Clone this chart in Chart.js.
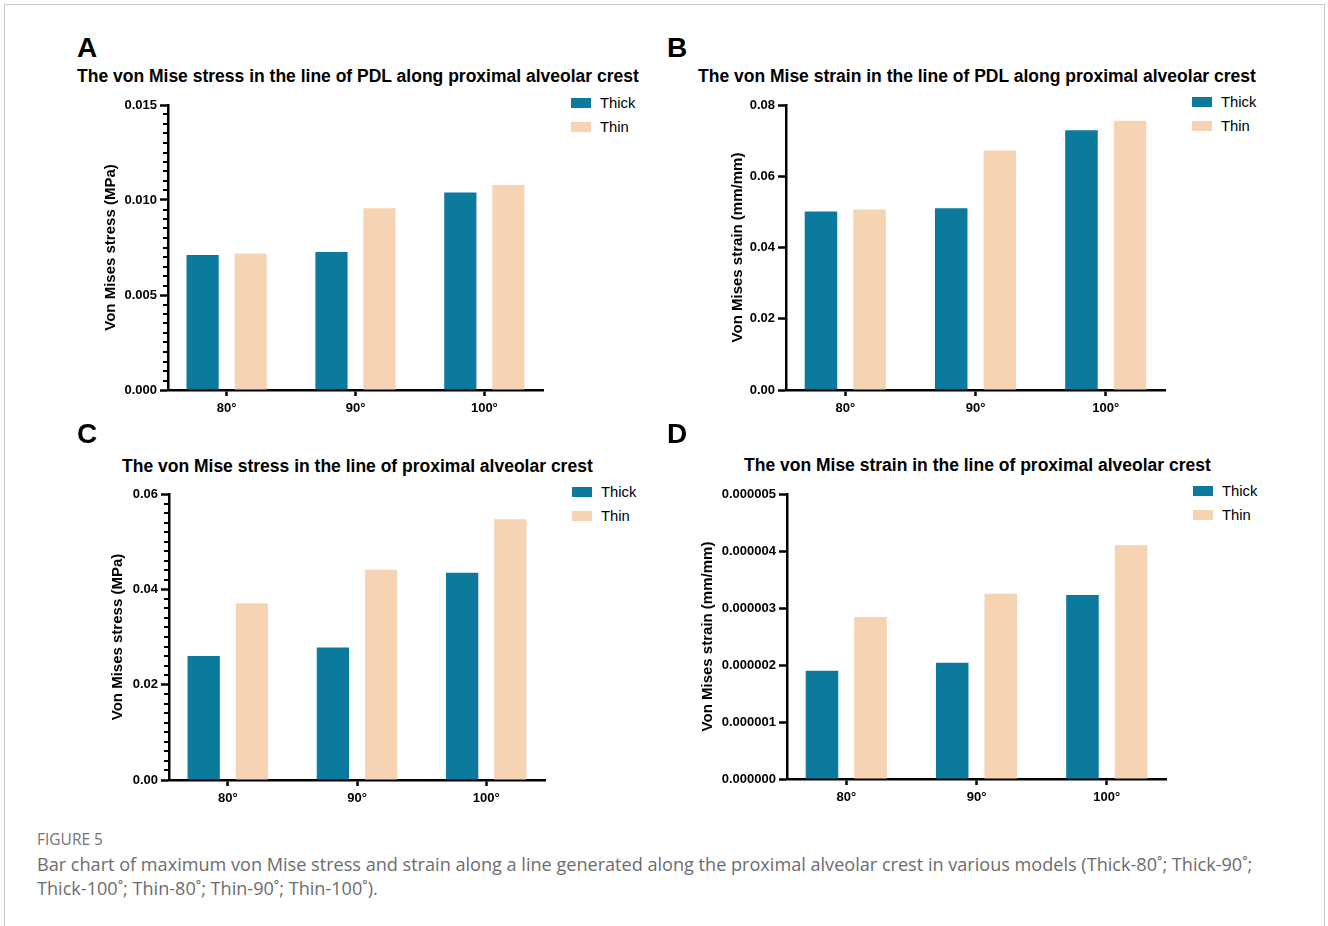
<!DOCTYPE html>
<html>
<head>
<meta charset="utf-8">
<script src="https://cdn.jsdelivr.net/npm/chart.js@4.4.1/dist/chart.umd.min.js"></script>
<style>
  html, body { margin: 0; padding: 0; background: #fff; }
  body { width: 1328px; height: 926px; position: relative; overflow: hidden;
         font-family: "Liberation Sans", Arial, sans-serif; }
  .frame { position: absolute; left: 4px; top: 4px; width: 1321px; height: 960px;
           border: 1px solid #cdcdcd; box-sizing: border-box; }
  .letter { position: absolute; font-weight: bold; font-size: 28px; line-height: 1; color: #000; }
  .title { position: absolute; font-weight: bold; font-size: 17.5px; line-height: 1; color: #000; white-space: nowrap; }
  .legend { position: absolute; font-size: 14.8px; line-height: 1; color: #000; }
  .legend .sw { position: absolute; left: 0; width: 20px; height: 10px; }
  .legend .lbl { position: absolute; left: 29px; white-space: nowrap; }
  canvas { position: absolute; }
  .fig { position: absolute; left: 37px; font-family: "Open Sans", sans-serif; color: #747474;
         font-size: 15.5px; line-height: 1; }
  .caption { position: absolute; left: 37px; font-family: "Open Sans", sans-serif; color: #6c6c6c;
             font-size: 18.1px; line-height: 24px; white-space: nowrap; }
</style>
</head>
<body>
<div class="frame"></div>
<div id="root"></div>
<div class="fig" style="top:831.8px;">FIGURE 5</div>
<div class="caption" style="top:852px;">Bar chart of maximum von Mise stress and strain along a line generated along the proximal alveolar crest in various models (Thick-80˚; Thick-90˚;<br>Thick-100˚; Thin-80˚; Thin-90˚; Thin-100˚).</div>

<script>
// Categories (approach angle) shared by all four panels
const categories = ['80°', '90°', '100°'];
const seriesNames = ['Thick', 'Thin'];

// A: von Mises stress in the PDL line along the proximal alveolar crest (MPa)
const stressPdlThick = [0.00711, 0.00726, 0.01040];
const stressPdlThin  = [0.00719, 0.00956, 0.01079];

// B: von Mises strain in the PDL line along the proximal alveolar crest (mm/mm)
const strainPdlThick = [0.0501, 0.0510, 0.0729];
const strainPdlThin  = [0.0507, 0.0672, 0.0756];

// C: von Mises stress in the line of the proximal alveolar crest (MPa)
const stressCrestThick = [0.0260, 0.0278, 0.0435];
const stressCrestThin  = [0.0371, 0.0441, 0.0547];

// D: von Mises strain in the line of the proximal alveolar crest (mm/mm)
const strainCrestThick = [0.00000190, 0.00000204, 0.00000323];
const strainCrestThin  = [0.00000284, 0.00000325, 0.00000410];

// Y axis tick values for each panel
const ticksA = [0.000, 0.005, 0.010, 0.015];
const ticksB = [0.00, 0.02, 0.04, 0.06, 0.08];
const ticksC = [0.00, 0.02, 0.04, 0.06];
const ticksD = [0.000000, 0.000001, 0.000002, 0.000003, 0.000004, 0.000005];

const THICK = '#0b7a9d';
const THIN = '#f5d3b3';
const FONT = '"Liberation Sans", Arial, sans-serif';

// Short minor tick marks on the value axis, placed through the scale
const minorTicks = {
  id: 'minorTicks',
  afterDraw(chart, args, opts) {
    if (!opts || !opts.perMajor) return;
    const y = chart.scales.y;
    const ctx = chart.ctx;
    const x0 = chart.chartArea.left;
    const major = y.ticks.length > 1 ? y.ticks[1].value - y.ticks[0].value : 0;
    if (!major) return;
    const step = major / opts.perMajor;
    const n = Math.round((y.max - y.min) / step);
    ctx.save();
    ctx.strokeStyle = '#000';
    ctx.lineWidth = 2;
    for (let i = 1; i < n; i++) {
      if (i % opts.perMajor === 0) continue;
      const py = Math.round(y.getPixelForValue(y.min + i * step));
      ctx.beginPath();
      ctx.moveTo(x0 - opts.len, py);
      ctx.lineTo(x0, py);
      ctx.stroke();
    }
    ctx.restore();
  }
};

const panels = [
  { letter: 'A', title: 'The von Mise stress in the line of PDL along proximal alveolar crest',
    yTitle: 'Von Mises stress (MPa)', thick: stressPdlThick, thin: stressPdlThin, ticks: ticksA, dec: 3, minor: 10,
    letterPos: [77, 33.8], titlePos: [77, 67.9], legendPos: [571, 97.5],
    canvasLeft: 60, canvasTop: 88, axisX: 168, plotTop: 105, plotBottom: 390, plotRight: 543, yTitleX: 111 },
  { letter: 'B', title: 'The von Mise strain in the line of PDL along proximal alveolar crest',
    yTitle: 'Von Mises strain (mm/mm)', thick: strainPdlThick, thin: strainPdlThin, ticks: ticksB, dec: 2, minor: 0,
    letterPos: [667, 33.8], titlePos: [698, 67.9], legendPos: [1192, 96.8],
    canvasLeft: 680, canvasTop: 88, axisX: 786, plotTop: 105, plotBottom: 390, plotRight: 1165, yTitleX: 738 },
  { letter: 'C', title: 'The von Mise stress in the line of proximal alveolar crest',
    yTitle: 'Von Mises stress (MPa)', thick: stressCrestThick, thin: stressCrestThin, ticks: ticksC, dec: 2, minor: 10,
    letterPos: [77, 420.3], titlePos: [122, 457.9], legendPos: [572, 486.7],
    canvasLeft: 60, canvasTop: 477, axisX: 169, plotTop: 494, plotBottom: 780, plotRight: 545, yTitleX: 118 },
  { letter: 'D', title: 'The von Mise strain in the line of proximal alveolar crest',
    yTitle: 'Von Mises strain (mm/mm)', thick: strainCrestThick, thin: strainCrestThin, ticks: ticksD, dec: 6, minor: 0,
    letterPos: [667, 420.3], titlePos: [744, 456.9], legendPos: [1193, 486],
    canvasLeft: 680, canvasTop: 477, axisX: 787, plotTop: 494, plotBottom: 779, plotRight: 1166, yTitleX: 708 }
];

const root = document.getElementById('root');

function addText(cls, text, left, top) {
  const d = document.createElement('div');
  d.className = cls;
  d.textContent = text;
  d.style.left = left + 'px';
  d.style.top = top + 'px';
  root.appendChild(d);
  return d;
}

function addLegend(left, top) {
  const lg = document.createElement('div');
  lg.className = 'legend';
  lg.style.left = left + 'px';
  lg.style.top = top + 'px';
  [THICK, THIN].forEach((col, i) => {
    const sw = document.createElement('div');
    sw.className = 'sw';
    sw.style.top = (i * 24) + 'px';
    sw.style.background = col;
    const lb = document.createElement('div');
    lb.className = 'lbl';
    lb.style.top = (i * 24 - 1.9) + 'px';
    lb.textContent = seriesNames[i];
    lg.appendChild(sw);
    lg.appendChild(lb);
  });
  root.appendChild(lg);
}

function makePanel(p) {
  addText('letter', p.letter, p.letterPos[0], p.letterPos[1]);
  addText('title', p.title, p.titlePos[0], p.titlePos[1]);
  addLegend(p.legendPos[0], p.legendPos[1]);

  const padRight = 12;
  const W = p.plotRight + padRight - p.canvasLeft;
  const H = p.plotBottom + 38 - p.canvasTop;
  const padTop = p.plotTop - p.canvasTop;
  const yWidth = p.axisX - p.canvasLeft;
  const xHeight = H - padTop - (p.plotBottom - p.plotTop);
  const titleSize = 15;

  const canvas = document.createElement('canvas');
  canvas.width = W; canvas.height = H;
  canvas.style.left = p.canvasLeft + 'px';
  canvas.style.top = p.canvasTop + 'px';
  canvas.style.width = W + 'px';
  canvas.style.height = H + 'px';
  root.appendChild(canvas);

  const major = p.ticks[1] - p.ticks[0];

  new Chart(canvas, {
    type: 'bar',
    data: {
      datasets: [
        { label: seriesNames[0], data: categories.map((c, i) => ({ x: i, y: p.thick[i] })), backgroundColor: THICK },
        { label: seriesNames[1], data: categories.map((c, i) => ({ x: i, y: p.thin[i] })), backgroundColor: THIN }
      ]
    },
    options: {
      responsive: false,
      animation: false,
      devicePixelRatio: 1,
      layout: { padding: { top: padTop, right: padRight, bottom: 0, left: 0 } },
      plugins: {
        legend: { display: false },
        tooltip: { enabled: false },
        minorTicks: { perMajor: p.minor, len: 5 }
      },
      datasets: { bar: { categoryPercentage: 0.746, barPercentage: 0.67 } },
      scales: {
        x: {
          type: 'linear',
          offset: false,
          min: -0.455,
          max: categories.length - 1 + 0.455,
          afterBuildTicks: s => { s.ticks = categories.map((c, i) => ({ value: i })); },
          afterFit: s => { s.height = xHeight; },
          ticks: {
            callback: v => categories[v],
            autoSkip: false, maxRotation: 0, padding: 5,
            color: '#000',
            font: { family: FONT, size: 13, weight: 'bold' }
          },
          grid: { display: true, offset: false, drawOnChartArea: false, drawTicks: true, tickLength: 6, tickWidth: 2.5, tickColor: '#000' },
          border: { display: true, color: '#000', width: 2.5 }
        },
        y: {
          min: p.ticks[0],
          max: p.ticks[p.ticks.length - 1],
          afterBuildTicks: s => { s.ticks = p.ticks.map(v => ({ value: v })); },
          afterFit: s => { s.width = yWidth; },
          ticks: {
            stepSize: major,
            callback: v => Number(v).toFixed(p.dec),
            padding: 3,
            color: '#000',
            font: { family: FONT, size: 13, weight: 'bold' }
          },
          title: {
            display: true,
            text: p.yTitle,
            color: '#000',
            font: { family: FONT, size: titleSize, weight: 'bold' },
            padding: { top: p.yTitleX - p.canvasLeft - titleSize * 1.2 / 2, bottom: 0 }
          },
          grid: { display: true, drawOnChartArea: false, drawTicks: true, tickLength: 8, tickWidth: 2.5, tickColor: '#000' },
          border: { display: true, color: '#000', width: 2.5 }
        }
      }
    },
    plugins: [minorTicks]
  });
}

panels.forEach(makePanel);
</script>
</body>
</html>
